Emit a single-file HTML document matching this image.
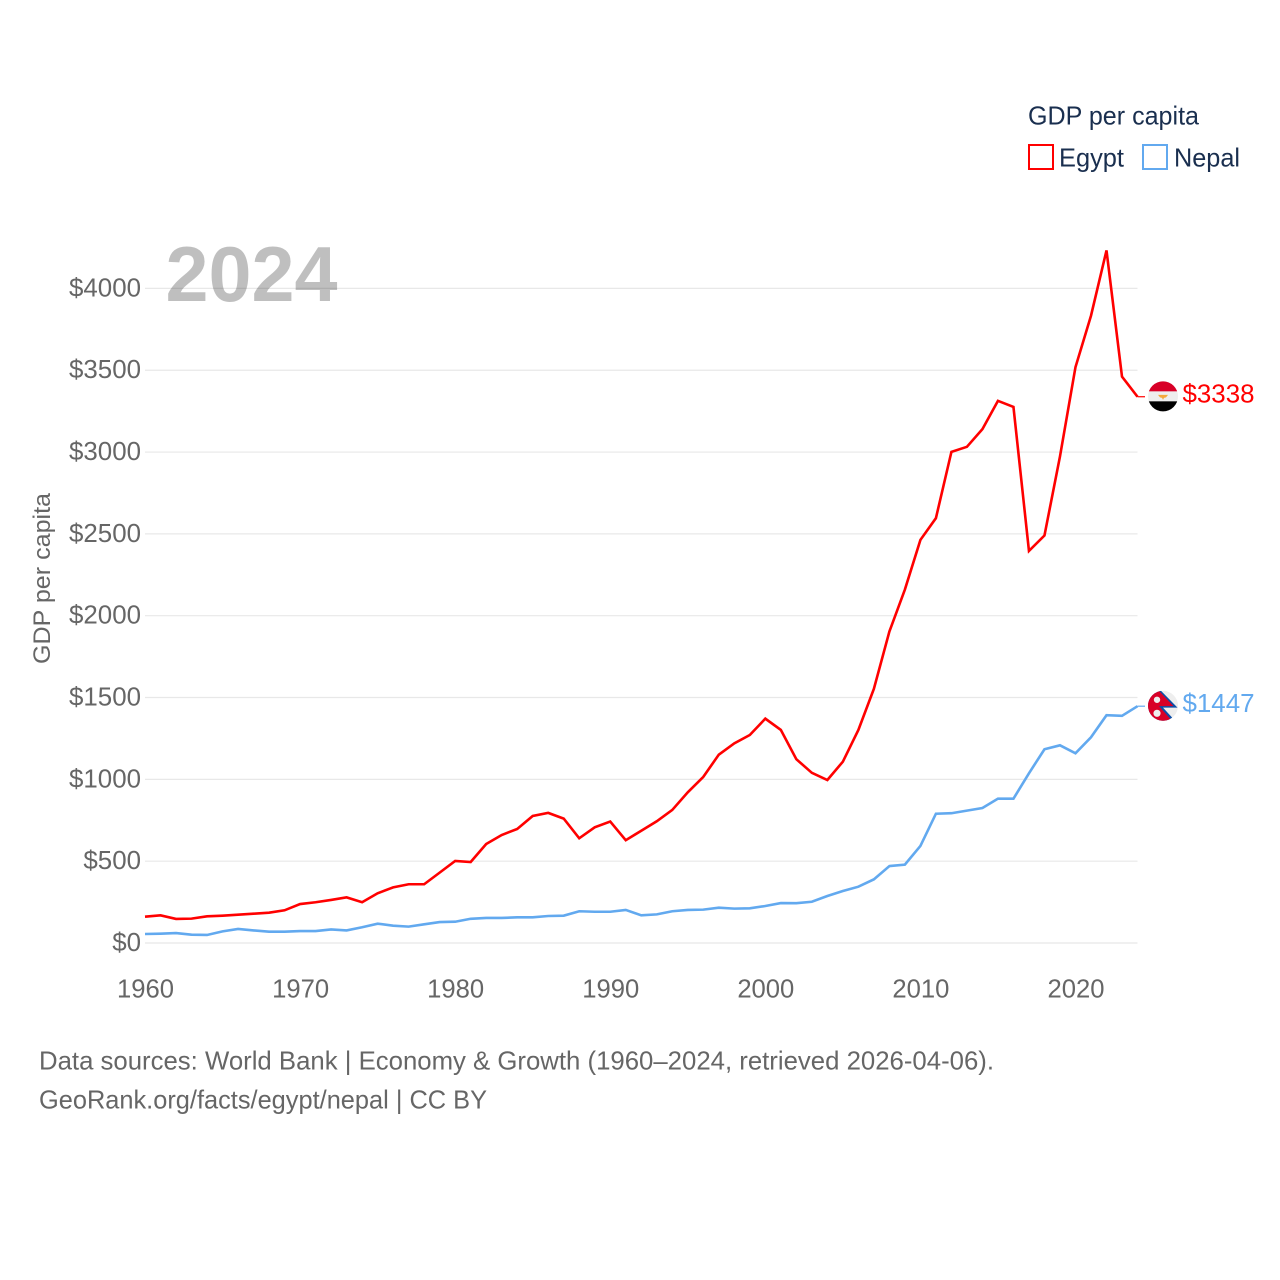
<!DOCTYPE html>
<html lang="en">
<head>
<meta charset="utf-8">
<title>GDP per capita: Egypt and Nepal</title>
<style>
html,body{margin:0;padding:0;background:#fff;width:1280px;height:1280px;overflow:hidden}
svg{display:block}
text{font-family:"Liberation Sans",sans-serif}
</style>
</head>
<body>
<svg id="chart" xmlns="http://www.w3.org/2000/svg" width="1280" height="1280" viewBox="0 0 1280 1280">
  <defs>
    <clipPath id="flag-clip"><circle cx="0" cy="0" r="15"/></clipPath>
  </defs>
  <rect width="1280" height="1280" fill="#fff"/>
  <g id="grid"></g>
  <text x="165.5" y="301" font-size="78" font-weight="700" fill="#000" fill-opacity="0.25" textLength="172" lengthAdjust="spacingAndGlyphs">2024</text>
  <g id="y-axis"></g>
  <g id="x-axis"></g>
  <text transform="translate(50,664) rotate(-90)" font-size="24" fill="#666" textLength="171" lengthAdjust="spacingAndGlyphs">GDP per capita</text>
  <g id="series"></g>
  <g id="end-labels"></g>
  <g>
    <text x="1028" y="124.5" font-size="26" fill="#1a2f4f" textLength="171" lengthAdjust="spacingAndGlyphs">GDP per capita</text>
    <rect x="1029" y="145" width="24" height="24" fill="#fff" stroke="#ff0000" stroke-width="2"/>
    <text x="1059" y="166.5" font-size="26" fill="#1a2f4f" textLength="65" lengthAdjust="spacingAndGlyphs">Egypt</text>
    <rect x="1143" y="145" width="24" height="24" fill="#fff" stroke="#62a9ef" stroke-width="2"/>
    <text x="1174" y="166.5" font-size="26" fill="#1a2f4f" textLength="66" lengthAdjust="spacingAndGlyphs">Nepal</text>
  </g>
  <g>
    <text x="39" y="1069.5" font-size="26" fill="#666" textLength="955" lengthAdjust="spacingAndGlyphs">Data sources: World Bank | Economy &amp; Growth (1960–2024, retrieved 2026-04-06).</text>
    <text x="39" y="1108.5" font-size="26" fill="#666" textLength="448" lengthAdjust="spacingAndGlyphs">GeoRank.org/facts/egypt/nepal | CC BY</text>
  </g>
</svg>
<script>
const startYear = 1960;
const yTicks = [0, 500, 1000, 1500, 2000, 2500, 3000, 3500, 4000];
const xTicks = [1960, 1970, 1980, 1990, 2000, 2010, 2020];
const egyptValues = [161,169,147,149,163,167,173,179,185,200,238,249,263,279,249,304,340,359,359,430,501,495,605,660,697,776,795,760,640,707,742,628,686,744,813,921,1015,1151,1220,1271,1371,1302,1123,1040,996,1108,1302,1553,1903,2160,2463,2596,3001,3032,3140,3313,3276,2396,2490,2973,3519,3833,4232,3461,3338];
const nepalValues = [55,57,61,51,49,71,86,77,69,69,73,73,83,77,96,118,106,100,114,128,130,148,153,153,157,157,165,167,194,191,191,202,169,175,194,202,204,216,210,212,226,244,243,252,287,318,344,389,470,479,593,790,793,809,825,882,882,1037,1184,1208,1159,1257,1392,1388,1447];

const NS = 'http://www.w3.org/2000/svg';
const xScale = function (year) { return 145 + (year - 1960) * 15.508; };
const yScale = function (value) { return 943 - value * 0.16365; };

function mk(tag, parent, attrs, txt) {
  const el = document.createElementNS(NS, tag);
  for (const k in attrs) { el.setAttribute(k, attrs[k]); }
  if (txt !== undefined) { el.textContent = txt; }
  parent.appendChild(el);
  return el;
}

const grid = document.getElementById('grid');
const yAxis = document.getElementById('y-axis');
const xAxis = document.getElementById('x-axis');
const series = document.getElementById('series');
const endLabels = document.getElementById('end-labels');

yTicks.forEach(function (t) {
  const line = mk('line', grid, { x1: xScale(1960), x2: xScale(2024), y1: yScale(t), y2: yScale(t), stroke: '#e8e8e8', 'stroke-width': 1.2 });
  
  
  const label = '$' + t;
  const lab = mk('text', yAxis, { x: 141, y: yScale(t) + 8, 'text-anchor': 'end', 'font-size': 26, fill: '#666', textLength: 14.4 * label.length, lengthAdjust: 'spacingAndGlyphs' }, label);
  
  
});

xTicks.forEach(function (t) {
  const lab = mk('text', xAxis, { x: xScale(t) + 0.5, y: 997.7, 'text-anchor': 'middle', 'font-size': 26, fill: '#666', textLength: 57, lengthAdjust: 'spacingAndGlyphs' }, String(t));
  
  
});

function pathFor(values) {
  return values.map(function (v, i) {
    return (i ? 'L' : 'M') + xScale(startYear + i).toFixed(2) + ' ' + yScale(v).toFixed(2);
  }).join(' ');
}

function drawSeries(values, color, name) {
  const lastYear = startYear + values.length - 1;
  const lastY = yScale(values[values.length - 1]);
  const p = mk('path', series, { d: pathFor(values), fill: 'none', stroke: color, 'stroke-width': 2.6, 'stroke-linejoin': 'miter' });
  
  

  const leader = mk('line', series, { x1: xScale(lastYear), x2: xScale(lastYear) + 7.5, y1: lastY, y2: lastY, stroke: color, 'stroke-width': 1.2 });
  
  

  const lab = mk('text', endLabels, { x: xScale(lastYear) + 45, y: lastY + 5.8, 'font-size': 26, fill: color, textLength: 72, lengthAdjust: 'spacingAndGlyphs' }, '$' + values[values.length - 1]);
  
  

  const flag = mk('g', endLabels, { transform: 'translate(' + (xScale(lastYear) + 25.5) + ',' + (lastY - 0.4) + ')' });
  
  
  return mk('g', flag, { 'clip-path': 'url(#flag-clip)' });
}

const egyptFlag = drawSeries(egyptValues, '#ff0000', 'egypt');
mk('rect', egyptFlag, { x: -16, y: -16, width: 32, height: 32, fill: '#eeeeee' });
mk('rect', egyptFlag, { x: -16, y: -16, width: 32, height: 11, fill: '#d80027' });
mk('rect', egyptFlag, { x: -16, y: 5, width: 32, height: 11, fill: '#000000' });
mk('path', egyptFlag, { d: 'M-5 -1.5 L5 -1.5 L3 1 L1 1.5 L0 3.5 L-1 1.5 L-3 1 Z', fill: '#f5a83c' });

const nepalFlag = drawSeries(nepalValues, '#62a9ef', 'nepal');
mk('rect', nepalFlag, { x: -16, y: -16, width: 32, height: 32, fill: '#eeeeee' });
mk('path', nepalFlag, { d: 'M-3 -16 L14.5 1.8 L0 1.8 L13 16 L-16 16 L-16 -16 Z', fill: '#0a4fa8' });
mk('path', nepalFlag, { d: 'M-5 -16 L10.5 0.3 L-4 0.3 L10 16 L-16 16 L-16 -16 Z', fill: '#d80027' });
mk('circle', nepalFlag, { cx: -6, cy: -6, r: 3.2, fill: '#eeeeee' });
mk('circle', nepalFlag, { cx: -6, cy: 7.5, r: 3.6, fill: '#eeeeee' });
</script>
</body>
</html>
